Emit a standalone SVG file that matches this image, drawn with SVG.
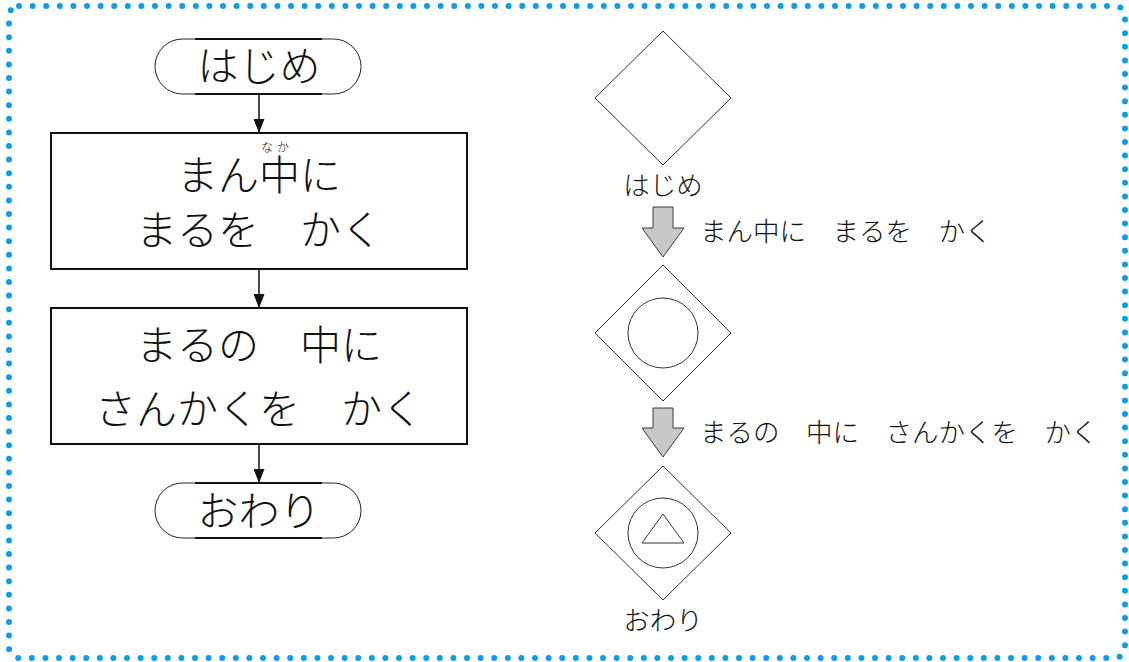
<svg xmlns="http://www.w3.org/2000/svg" width="1129" height="662" viewBox="0 0 1129 662">
<style>
.jp{font-family:"Noto Sans CJK JP","Noto Sans CJK SC",sans-serif;fill:#111;font-weight:300;}
.big{font-size:41px;text-anchor:middle;}
.lbl{font-size:26.5px;}
.ruby{font-size:12px;}
.box{fill:#fff;stroke:#111;stroke-width:2;}
.term{fill:#fff;stroke:#222;stroke-width:1;}
.termedge{stroke:#111;stroke-width:2;}
.conn{stroke:#111;stroke-width:1.5;fill:none;}
.dia{fill:#fff;stroke:#333;stroke-width:1;}
.barrow{fill:#c8c8c8;stroke:#3a3a3a;stroke-width:1;}
</style>
<defs>
<marker id="ah" viewBox="0 0 14 11" refX="14" refY="5.5" markerWidth="14" markerHeight="11" markerUnits="userSpaceOnUse" orient="auto">
<path d="M0,0 L14,5.5 L0,11 Z" fill="#111"/>
</marker>
</defs>
<rect x="9" y="6" width="1116" height="652" rx="10" ry="10" fill="#fff" stroke="#0d9fe6" stroke-width="6" stroke-linecap="round" stroke-dasharray="0 13.6"/>

<g id="connectors">
<line class="conn" x1="259" y1="94" x2="259" y2="133" marker-end="url(#ah)"/>
<line class="conn" x1="259" y1="269" x2="259" y2="308" marker-end="url(#ah)"/>
<line class="conn" x1="259" y1="444" x2="259" y2="483" marker-end="url(#ah)"/>
</g>

<g id="start">
<rect class="term" x="155" y="39" width="206" height="55" rx="27.5" ry="27.5"/>
<line class="termedge" x1="195" y1="39" x2="322" y2="39"/>
<line class="termedge" x1="195" y1="94" x2="322" y2="94"/>
<text class="jp big" x="259" y="81">はじめ</text>
</g>

<g id="step1">
<rect class="box" x="51" y="133" width="416" height="136"/>
<text class="jp"><tspan class="big" x="259" y="190">まん中に</tspan><tspan class="ruby" x="261" y="152" letter-spacing="4">なか</tspan></text>
<text class="jp big" x="259" y="245">まるを　かく</text>
</g>

<g id="step2">
<rect class="box" x="51" y="308" width="416" height="136"/>
<text class="jp big" x="259" y="360">まるの　中に</text>
<text class="jp big" x="259" y="424">さんかくを　かく</text>
</g>

<g id="end">
<rect class="term" x="155" y="483" width="206" height="55" rx="27.5" ry="27.5"/>
<line class="termedge" x1="195" y1="483" x2="322" y2="483"/>
<line class="termedge" x1="195" y1="538" x2="322" y2="538"/>
<text class="jp big" x="259" y="526">おわり</text>
</g>

<g id="dia1">
<polygon class="dia" points="663,31 731,98 663,165 595,98"/>
<text class="jp lbl" x="663" y="195" text-anchor="middle">はじめ</text>
</g>

<g id="barrow1">
<polygon class="barrow" points="653,207 673,207 673,228 684,228 663,257 642,228 653,228"/>
<text class="jp lbl" x="700" y="241">まん中に　まるを　かく</text>
</g>

<g id="dia2">
<polygon class="dia" points="663,265 731,333 663,401 595,333"/>
<circle class="dia" cx="663" cy="333" r="35"/>
</g>

<g id="barrow2">
<polygon class="barrow" points="653,408 673,408 673,428 684,428 663,457 642,428 653,428"/>
<text class="jp lbl" x="700" y="442">まるの　中に　さんかくを　かく</text>
</g>

<g id="dia3">
<polygon class="dia" points="663,466 731,533 663,600 595,533"/>
<circle class="dia" cx="663" cy="533" r="35"/>
<polygon class="dia" points="663,514 684,543 642,543"/>
<text class="jp lbl" x="663" y="630" text-anchor="middle">おわり</text>
</g>
</svg>
